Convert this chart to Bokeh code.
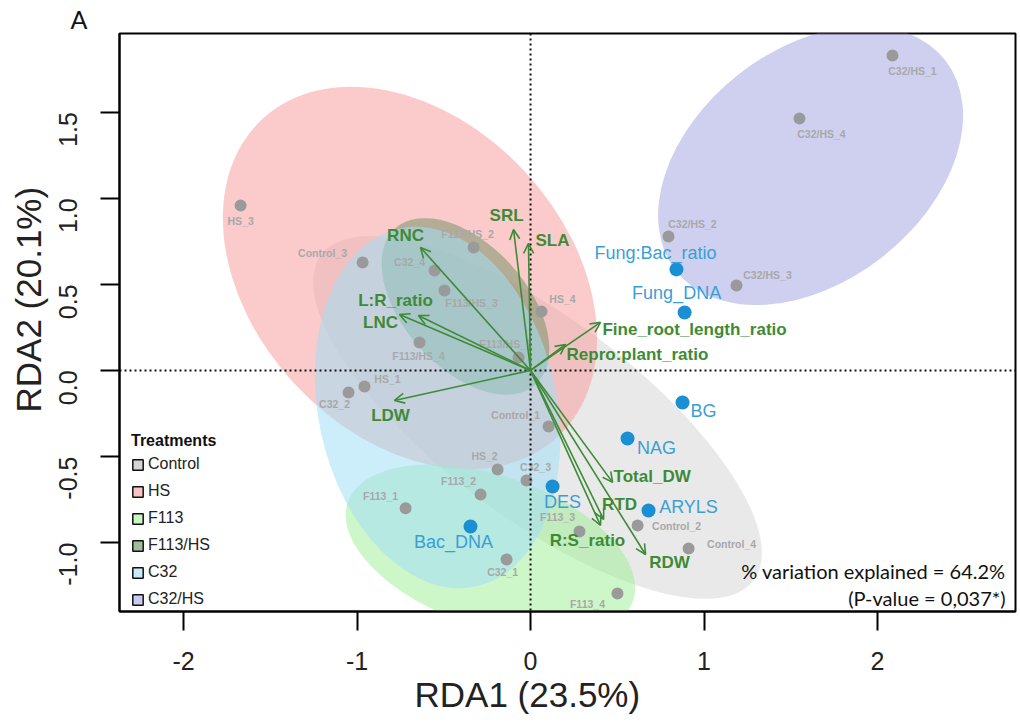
import math
from bokeh.plotting import figure
from bokeh.models import (ColumnDataSource, Range1d, FixedTicker, Span, Arrow, OpenHead,
                          Label, Legend, LegendItem, NumeralTickFormatter, Title)
from bokeh.core.properties import value
from bokeh.embed import file_html
from bokeh.resources import INLINE

# ---------------- data ----------------
TREATMENTS = ["Control", "HS", "F113", "F113/HS", "C32", "C32/HS"]

SAMPLE_NAMES = ["Control_1", "Control_2", "Control_3", "Control_4",
                "HS_1", "HS_2", "HS_3", "HS_4",
                "F113_1", "F113_2", "F113_3", "F113_4",
                "F113/HS_1", "F113/HS_2", "F113/HS_3", "F113/HS_4",
                "C32_1", "C32_2", "C32_3", "C32_4",
                "C32/HS_1", "C32/HS_2", "C32/HS_3", "C32/HS_4"]
SAMPLE_X = [0.104, 0.617, -0.968, 0.911,
            -0.957, -0.190, -1.671, 0.063,
            -0.720, -0.288, 0.282, 0.501,
            -0.069, -0.328, -0.496, -0.640,
            -0.138, -1.049, -0.023, -0.553,
            2.086, 0.795, 1.187, 1.550]
SAMPLE_Y = [-0.325, -0.900, 0.627, -1.034,
            -0.093, -0.575, 0.958, 0.343,
            -0.801, -0.720, -0.935, -1.295,
            0.075, 0.714, 0.465, 0.163,
            -1.098, -0.128, -0.639, 0.581,
            1.829, 0.778, 0.494, 1.463]

ENV_NAMES = ["Fung:Bac_ratio", "Fung_DNA", "BG", "NAG", "ARYLS", "DES", "Bac_DNA"]
ENV_X = [0.841, 0.888, 0.876, 0.559, 0.680, 0.127, -0.346]
ENV_Y = [0.587, 0.337, -0.186, -0.395, -0.813, -0.674, -0.906]

TRAIT_NAMES = ["SRL", "SLA", "RNC", "L:R_ratio", "LNC", "Fine_root_length_ratio",
               "Repro:plant_ratio", "LDW", "Total_DW", "RTD", "R:S_ratio", "RDW"]
TRAIT_X = [-0.098, -0.012, -0.634, -0.646, -0.755, 0.403, 0.202, -0.784, 0.473, 0.421, 0.403, 0.663]
TRAIT_Y = [0.819, 0.738, 0.714, 0.319, 0.325, 0.279, 0.151, -0.174, -0.650, -0.865, -0.900, -1.069]

# confidence ellipses (centre, full width/height along own axes, angle in degrees)
ELL_X = [0.040, -0.695, -0.231, -0.375, -0.536, 1.614]
ELL_Y = [-0.273, 0.537, -1.051, 0.372, -0.215, 1.190]
ELL_W = [3.12, 2.50, 1.74, 1.21, 2.11, 1.97]
ELL_H = [1.16, 1.82, 0.88, 0.716, 1.385, 1.35]
ELL_ANGLE = [-37, -47, -19, -48, -78, 38]

XTICKS = [-2, -1, 0, 1, 2]
XTICK_LABELS = ["-2", "-1", "0", "1", "2"]
YTICKS = [-1.0, -0.5, 0.0, 0.5, 1.0, 1.5]
YTICK_LABELS = ["-1.0", "-0.5", "0.0", "0.5", "1.0", "1.5"]

X_TITLE = "RDA1 (23.5%)"
Y_TITLE = "RDA2 (20.1%)"
PANEL = "A"
NOTE_1 = "% variation explained = 64.2%"
NOTE_2 = "(P-value = 0,037*)"

# ---------------- styling ----------------
ELL_COLORS = ["#cfcfcf", "#f7a1a1", "#9eef94", "#5e8a55", "#a3def5", "#9fa2e0"]
ELL_ALPHAS = [0.45, 0.55, 0.5, 0.45, 0.55, 0.5]
LEG_COLORS = ["#d4d4d4", "#f9c3c3", "#c9f5c3", "#9fbd9a", "#c6ebf7", "#c9caef"]
GREEN = "#3d8b37"
BLUE_PT = "#1b8fd3"
BLUE_TXT = "#3a9fd6"
GRAY_PT = "#9a9a9a"
GRAY_TXT = "#a8a8a8"
FONT = "Liberation Sans"

SAMPLE_DX = [-33, 39, -40, 43, 23, -13, 0, 21, -25, -22, -22, -30,
             -13, -6, 27, -1, -4, -14, 9, -25, 20, 24, 31, 22]
SAMPLE_DY = [-11, 1, -9, -4, -7, -13, 15, -12, -12, -13, -14, 11,
             -14, -14, 13, 14, 12, 12, -13, -8, 15, -12, -10, 15]
ENV_DX = [-21, -8, 21, 29, 40, 10, -17]
ENV_DY = [-16, -19, 9, 10, -3, 16, 16]
TRAIT_DX = [-7, 24, -15, -23, -19, 2, 1, -4, 1, 16, -13, 24]
TRAIT_DY = [-14, -3, -12, -15, 8, 7, 10, 15, -6, -15, 15, 8]
TRAIT_LEFT = [False, False, False, False, False, True, True, False, True, False, False, False]

X_START, X_END = -2.369, 2.795
Y_START, Y_END = -1.400, 1.957

p = figure(width=1018, height=724, output_backend="svg", toolbar_location=None,
           x_range=Range1d(X_START, X_END), y_range=Range1d(Y_START, Y_END),
           min_border_left=119, min_border_right=3, min_border_top=33, min_border_bottom=113)
p.xgrid.visible = False
p.ygrid.visible = False
p.outline_line_color = "black"
p.outline_line_width = 2
p.background_fill_color = "white"
p.border_fill_color = "white"

for ax, ticks, labels, fmt in ((p.xaxis, XTICKS, XTICK_LABELS, "0"),
                               (p.yaxis, YTICKS, YTICK_LABELS, "0.0")):
    ax.ticker = FixedTicker(ticks=ticks)
    ax.formatter = NumeralTickFormatter(format=fmt)
    ax.major_label_overrides = {t: l for t, l in zip(ticks, labels)}
    ax.major_label_text_font = FONT
    ax.major_label_text_font_size = "25px"
    ax.major_label_text_color = "#222222"
    ax.major_tick_out = 19
    ax.major_tick_in = 0
    ax.minor_tick_out = 0
    ax.minor_tick_in = 0
    ax.major_tick_line_width = 2
    ax.major_tick_line_color = "black"
    ax.axis_line_width = 2
    ax.axis_line_color = "black"
p.xaxis.major_label_standoff = 21
p.yaxis.major_label_standoff = 32
p.yaxis.major_label_orientation = math.pi / 2

# titles (placed outside the frame)
p.add_layout(Title(text=X_TITLE, align="left", offset=295, standoff=0,
                   text_font=FONT, text_font_size="35px", text_font_style="normal",
                   text_color="#222222"), "below")
p.add_layout(Title(text=Y_TITLE, align="left", offset=199, standoff=0,
                   text_font=FONT, text_font_size="35px", text_font_style="normal",
                   text_color="#222222"), "left")
p.add_layout(Title(text=PANEL, align="left", offset=-49, standoff=0,
                   text_font="Lato", text_font_size="25px", text_font_style="normal",
                   text_color="#111111"), "above")

# ellipses
ell_src = ColumnDataSource(dict(x=ELL_X, y=ELL_Y, w=ELL_W, h=ELL_H,
                                a=[math.radians(v) for v in ELL_ANGLE],
                                c=ELL_COLORS, al=ELL_ALPHAS))
p.ellipse(x="x", y="y", width="w", height="h", angle="a", source=ell_src,
          fill_color="c", fill_alpha="al", line_color=None)

# reference lines
p.add_layout(Span(location=0, dimension="height", line_color="#111111",
                  line_width=2, line_dash="2 3"))
p.add_layout(Span(location=0, dimension="width", line_color="#111111",
                  line_width=2, line_dash="2 3"))

# sample points
s_src = ColumnDataSource(dict(x=SAMPLE_X, y=SAMPLE_Y, t=SAMPLE_NAMES, dx=SAMPLE_DX, dy=SAMPLE_DY))
p.scatter(x="x", y="y", source=s_src, size=12, fill_color=GRAY_PT, line_color=None)
p.text(x="x", y="y", text="t", x_offset="dx", y_offset="dy", source=s_src,
       text_font=value(FONT), text_font_style="bold", text_font_size="10.5px",
       text_color=GRAY_TXT, text_align="center", text_baseline="middle")

# trait arrows
a_src = ColumnDataSource(dict(x0=[0.0] * len(TRAIT_X), y0=[0.0] * len(TRAIT_Y),
                              x1=TRAIT_X, y1=TRAIT_Y))
p.add_layout(Arrow(x_start="x0", y_start="y0", x_end="x1", y_end="y1", source=a_src,
                   line_color=GREEN, line_width=1.6,
                   end=OpenHead(size=10, line_color=GREEN, line_width=1.6)))

for left in (False, True):
    idx = [i for i, v in enumerate(TRAIT_LEFT) if v == left]
    t_src = ColumnDataSource(dict(x=[TRAIT_X[i] for i in idx], y=[TRAIT_Y[i] for i in idx],
                                  t=[TRAIT_NAMES[i] for i in idx],
                                  dx=[TRAIT_DX[i] for i in idx], dy=[TRAIT_DY[i] for i in idx]))
    p.text(x="x", y="y", text="t", x_offset="dx", y_offset="dy", source=t_src,
           text_font=value(FONT), text_font_style="bold", text_font_size="17px",
           text_color=GREEN, text_align="left" if left else "center", text_baseline="middle")

# environmental points
e_src = ColumnDataSource(dict(x=ENV_X, y=ENV_Y, t=ENV_NAMES, dx=ENV_DX, dy=ENV_DY))
p.scatter(x="x", y="y", source=e_src, size=14, fill_color=BLUE_PT, line_color=None)
p.text(x="x", y="y", text="t", x_offset="dx", y_offset="dy", source=e_src,
       text_font=value(FONT), text_font_size="18px",
       text_color=BLUE_TXT, text_align="center", text_baseline="middle")

# legend (swatch proxies carry no visible data)
items = []
nan = float("nan")
for name, col in zip(TREATMENTS, LEG_COLORS):
    r = p.quad(left=[nan], right=[nan], top=[nan], bottom=[nan], fill_color=col,
               line_color="#111111", line_width=1.5)
    items.append(LegendItem(label=name, renderers=[r]))
leg = Legend(items=items, location=(12, 2), title="Treatments",
             title_text_font=FONT, title_text_font_style="bold", title_text_font_size="16px",
             title_text_color="#111111", title_standoff=4,
             label_text_font=FONT, label_text_font_size="16px", label_text_color="#222222",
             glyph_width=13, glyph_height=13, label_height=20, spacing=7,
             label_standoff=4, padding=0, margin=0,
             border_line_color=None, background_fill_alpha=0)
p.add_layout(leg)

# notes
p.add_layout(Label(x=2.738, y=-1.167, text=NOTE_1, text_align="right", text_baseline="middle",
                   text_font="Lato", text_font_size="20px", text_color="#111111"))
p.add_layout(Label(x=2.738, y=-1.324, text=NOTE_2, text_align="right", text_baseline="middle",
                   text_font="Lato", text_font_size="20px", text_color="#111111"))

open("out.html", "w").write(file_html(p, INLINE))
